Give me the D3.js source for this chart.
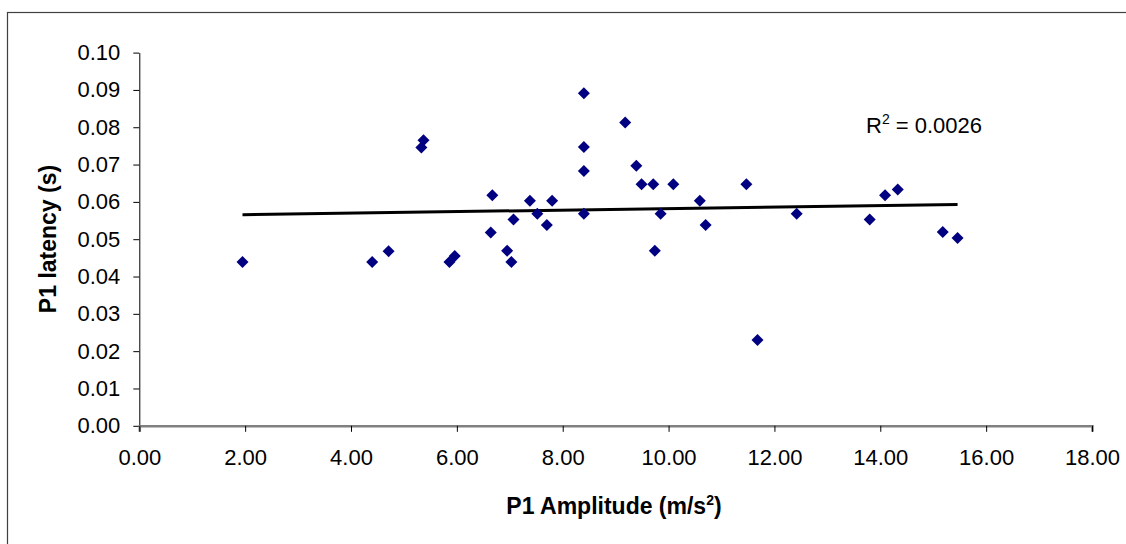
<!DOCTYPE html>
<html>
<head>
<meta charset="utf-8">
<script src="https://cdn.jsdelivr.net/npm/d3@7"></script>
<style>
  body { margin: 0; background: #fff; }
  svg { display: block; font-family: "Liberation Sans", Arial, sans-serif; }
</style>
</head>
<body>
<div id="chart-container"></div>
<script>
// P1 amplitude (m/s^2) and P1 latency (s)
const amplitude = [1.95, 4.40, 4.71, 5.33, 5.37, 5.86, 5.96, 6.64, 6.67, 6.95,
  7.03, 7.07, 7.38, 7.52, 7.70, 7.80, 8.40, 8.40, 8.40, 8.40,
  9.18, 9.39, 9.49, 9.71, 9.74, 9.85, 10.09, 10.59, 10.70, 11.47,
  11.68, 12.42, 13.80, 14.09, 14.33, 15.18, 15.46];
const latency = [0.0439, 0.0439, 0.0468, 0.0746, 0.0765, 0.0439, 0.0455, 0.0518, 0.0618, 0.0469,
  0.0439, 0.0553, 0.0603, 0.0568, 0.0538, 0.0603, 0.0891, 0.0747, 0.0683, 0.0568,
  0.0813, 0.0697, 0.0647, 0.0647, 0.0469, 0.0568, 0.0647, 0.0603, 0.0538, 0.0647,
  0.0230, 0.0568, 0.0553, 0.0618, 0.0633, 0.0519, 0.0503];

const xTickValues = [0, 2, 4, 6, 8, 10, 12, 14, 16, 18];
const yTickValues = [0, 0.01, 0.02, 0.03, 0.04, 0.05, 0.06, 0.07, 0.08, 0.09, 0.10];
const rSquaredLabel = "0.0026";

function init() {
  const W = 1126, H = 544;
  const plot = { left: 139.3, right: 1092, top: 52.6, bottom: 425.8 };

  const svg = d3.select("#chart-container")
    .append("svg")
      .attr("width", W)
      .attr("height", H);

  svg.append("rect")
    .attr("width", W).attr("height", H)
    .attr("fill", "#fff");

  // outer chart border (only top and left fall inside the picture)
  svg.append("rect")
    .attr("x", 7.5).attr("y", 12.5)
    .attr("width", W + 10).attr("height", H + 10)
    .attr("fill", "none")
    .attr("stroke", "#404040")
    .attr("stroke-width", 1.2);

  const data = amplitude.map((a, i) => ({ x: a, y: latency[i] }));

  const xScale = d3.scaleLinear().domain([0, 18]).range([plot.left, plot.right]);
  const yScale = d3.scaleLinear().domain([0, 0.10]).range([plot.bottom, plot.top]);

  // y axis
  const yAxis = svg.append("g")
    .attr("transform", `translate(${plot.left},0)`)
    .call(d3.axisLeft(yScale)
      .tickValues(yTickValues)
      .tickFormat(d3.format(".2f"))
      .tickSizeInner(6)
      .tickSizeOuter(0)
      .tickPadding(13));
  yAxis.select(".domain").attr("stroke", "#000").attr("stroke-width", 1);
  yAxis.selectAll(".tick line").attr("stroke", "#000");
  yAxis.selectAll("text")
    .attr("font-size", "22px")
    .attr("fill", "#000")
    .attr("font-family", "Liberation Sans, Arial, sans-serif");

  // x axis
  const xAxis = svg.append("g")
    .attr("transform", `translate(0,${plot.bottom})`)
    .call(d3.axisBottom(xScale)
      .tickValues(xTickValues)
      .tickFormat(d3.format(".2f"))
      .tickSizeInner(6)
      .tickSizeOuter(6)
      .tickPadding(18));
  xAxis.select(".domain").attr("stroke", "#808080").attr("stroke-width", 2.5);
  xAxis.selectAll(".tick line").attr("stroke", "#000");
  xAxis.selectAll("text")
    .attr("font-size", "22px")
    .attr("fill", "#000")
    .attr("font-family", "Liberation Sans, Arial, sans-serif");

  // linear trend line through the points
  const mx = d3.mean(data, d => d.x);
  const my = d3.mean(data, d => d.y);
  const sxy = d3.sum(data, d => (d.x - mx) * (d.y - my));
  const sxx = d3.sum(data, d => (d.x - mx) * (d.x - mx));
  const slope = sxy / sxx;
  const intercept = my - slope * mx;
  const [x0, x1] = d3.extent(data, d => d.x);

  svg.append("line")
    .attr("x1", xScale(x0)).attr("y1", yScale(intercept + slope * x0))
    .attr("x2", xScale(x1)).attr("y2", yScale(intercept + slope * x1))
    .attr("stroke", "#000")
    .attr("stroke-width", 3);

  // diamond markers
  svg.selectAll(".pt")
    .data(data)
    .enter()
    .append("path")
      .attr("class", "pt")
      .attr("d", "M0,-6L6,0L0,6L-6,0Z")
      .attr("transform", d => `translate(${xScale(d.x)},${yScale(d.y)})`)
      .attr("fill", "#000080");

  // R squared label
  const r2 = svg.append("text")
    .attr("x", 866)
    .attr("y", 133)
    .attr("font-size", "22px")
    .attr("fill", "#000");
  r2.append("tspan").text("R");
  r2.append("tspan").attr("font-size", "14px").attr("dy", -9).text("2");
  r2.append("tspan").attr("dy", 9).text(" = " + rSquaredLabel);

  // axis titles
  const xt = svg.append("text")
    .attr("x", 614)
    .attr("y", 514)
    .attr("text-anchor", "middle")
    .attr("font-size", "23px")
    .attr("font-weight", "bold")
    .attr("fill", "#000");
  xt.append("tspan").text("P1 Amplitude (m/s");
  xt.append("tspan").attr("font-size", "14px").attr("dy", -9).text("2");
  xt.append("tspan").attr("dy", 9).text(")");

  svg.append("text")
    .attr("transform", "translate(56,239) rotate(-90)")
    .attr("text-anchor", "middle")
    .attr("font-size", "23px")
    .attr("font-weight", "bold")
    .attr("fill", "#000")
    .text("P1 latency (s)");
}

window.onload = init;
</script>
</body>
</html>
